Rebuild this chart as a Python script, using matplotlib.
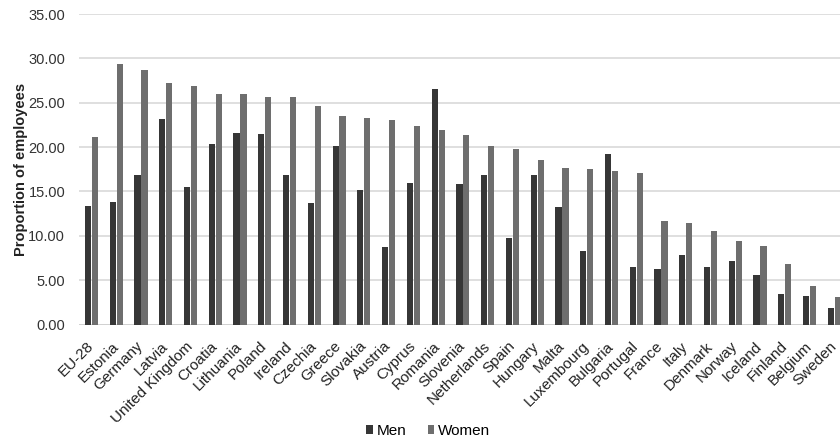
import matplotlib
matplotlib.use("Agg")
import matplotlib.pyplot as plt
import numpy as np

plt.rcParams['font.family'] = ['Liberation Sans', 'DejaVu Sans']

countries = ["EU-28", "Estonia", "Germany", "Latvia", "United Kingdom", "Croatia",
             "Lithuania", "Poland", "Ireland", "Czechia", "Greece", "Slovakia",
             "Austria", "Cyprus", "Romania", "Slovenia", "Netherlands", "Spain",
             "Hungary", "Malta", "Luxembourg", "Bulgaria", "Portugal", "France",
             "Italy", "Denmark", "Norway", "Iceland", "Finland", "Belgium", "Sweden"]
men = [13.4, 13.8, 16.8, 23.2, 15.5, 20.3, 21.6, 21.5, 16.8, 13.7, 20.1, 15.2,
       8.7, 16.0, 26.5, 15.8, 16.9, 9.7, 16.9, 13.2, 8.3, 19.2, 6.5, 6.2,
       7.8, 6.5, 7.2, 5.6, 3.4, 3.25, 1.9]
women = [21.1, 29.4, 28.7, 27.2, 26.9, 26.0, 26.0, 25.7, 25.6, 24.6, 23.5, 23.3,
         23.1, 22.4, 21.9, 21.4, 20.1, 19.8, 18.5, 17.6, 17.5, 17.25, 17.05, 11.7,
         11.4, 10.5, 9.4, 8.9, 6.8, 4.3, 3.1]
yticks = [0, 5, 10, 15, 20, 25, 30, 35]

W, H = 840, 441
fig = plt.figure(figsize=(W / 100, H / 100), dpi=100)
left, right = 79.1, 846.7
bottom, top = 441 - 324.5, 441 - 14
ax_w = right - left
ax = fig.add_axes([left / W, bottom / H, ax_w / W, (top - bottom) / H])

x = np.arange(len(countries))
bw = 0.25
off = 0.14
ax.bar(x - off, men, width=bw, color="#363636", label="Men", zorder=3)
ax.bar(x + off, women, width=bw, color="#6e6e6e", label="Women", zorder=3)

ax.set_xlim(-0.5, len(countries) - 0.5)
ax.set_ylim(0, 35)
ax.set_yticks(yticks)
ax.set_yticklabels([f"{v:.2f}" for v in yticks], fontsize=10.5, color="#333333")
ax.yaxis.grid(True, color="#d9d9d9", linewidth=1.2, zorder=0)
ax.set_axisbelow(True)
for s in ax.spines.values():
    s.set_visible(False)
ax.tick_params(axis='both', length=0)
ax.tick_params(axis='y', pad=10)
ax.axhline(0, color="#cfcfcf", linewidth=1.2, zorder=2)

ax.set_xticks(x)
ax.set_xticklabels(countries, rotation=45, ha='right', va='center',
                   rotation_mode='anchor', fontsize=11, color="#222222")
ax.tick_params(axis='x', pad=14)

ax.set_ylabel("Proportion of employees", fontsize=10.5, fontweight='bold',
              color="#222222")
ax.yaxis.set_label_coords((28 - left) / ax_w, 0.5)

handles, labels = ax.get_legend_handles_labels()
fig.legend(handles, labels, loc='center', bbox_to_anchor=(428 / W, 1 - 431 / H),
           ncol=2, frameon=False, fontsize=11, handlelength=0.45, handleheight=0.45,
           handletextpad=0.2, columnspacing=1.4)

fig.savefig("out.png", dpi=100)
